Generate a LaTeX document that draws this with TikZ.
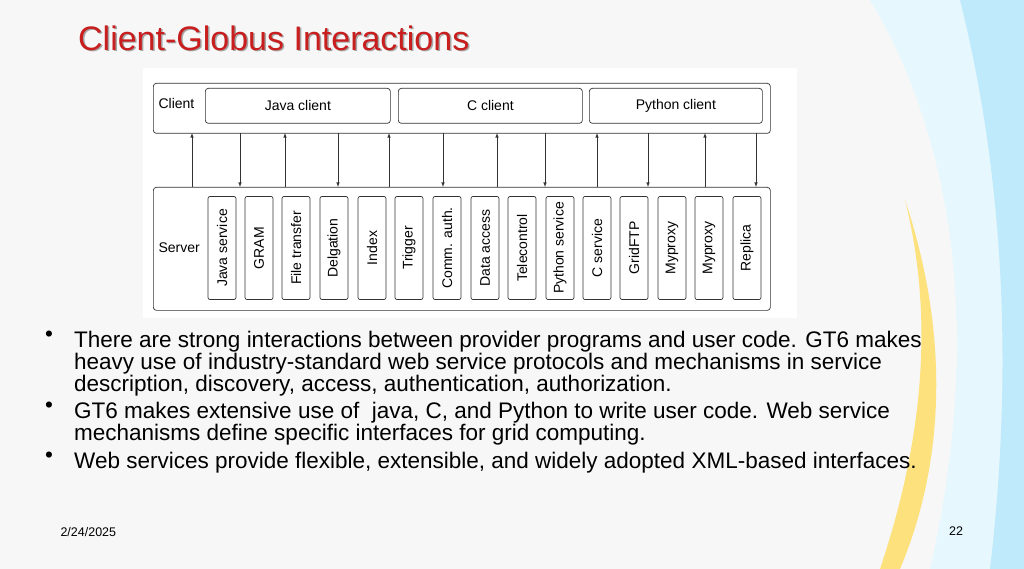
\documentclass[tikz,border=0pt]{standalone}
\usepackage{fontspec}
\setmainfont{Liberation Sans}
\begin{document}
\begin{tikzpicture}[x=1pt,y=-1pt,
 box/.style={draw=black!80,line width=0.7pt,rounded corners=3pt},
 svc/.style={draw=black!80,line width=0.7pt,rounded corners=2pt,minimum width=28pt,minimum height=103pt,inner sep=0pt},
 svct/.style={font=\fontsize{14}{14}\selectfont,rotate=90},
 lab/.style={font=\fontsize{14}{14}\selectfont},
 arr/.style={-latex,line width=0.6pt,black!80},
 body/.style={font=\fontsize{22.5}{22}\selectfont,anchor=north west,align=left,inner sep=0pt}]
\useasboundingbox (0,0) rectangle (1024,569);
\fill[gray!6] (0,0) rectangle (1024,569);
\fill[cyan!10] (870,0) .. controls (960,150) and (980,350) .. (930,569) -- (1024,569) -- (1024,0) -- cycle;
\fill[cyan!25] (960,0) .. controls (1010,200) and (1010,400) .. (990,569) -- (1024,569) -- (1024,0) -- cycle;
\fill[yellow!60!orange!50] (880,569) .. controls (930,420) and (930,300) .. (905,200) .. controls (945,320) and (950,450) .. (900,569) -- cycle;
\node[anchor=west,font=\fontsize{34}{36}\selectfont,text=black!35,inner sep=0pt] (ts) at (79.5,39.5) {Client-Globus Interactions};
\node[anchor=west,font=\fontsize{34}{36}\selectfont,text={rgb,255:red,200;green,30;blue,30},inner sep=0pt] (title) at (78,38) {Client-Globus Interactions};
\fill[white] (143,68) rectangle (797,318);
\node[box,minimum width=617pt,minimum height=50pt,anchor=north west,inner sep=0pt] (client) at (153,83) {};
\node[box,minimum width=617pt,minimum height=123pt,anchor=north west,inner sep=0pt] (server) at (153,187) {};
\node[lab,anchor=west] (cl) at (155,103) {Client};
\node[lab,anchor=west] (sl) at (155,248) {Server};
\node[box,lab,minimum width=185pt,minimum height=35pt,anchor=north west,inner sep=0pt] (java) at (205,88) {Java client};
\node[box,lab,minimum width=184pt,minimum height=35pt,anchor=north west,inner sep=0pt] (cc) at (398,88) {C client};
\node[box,lab,minimum width=173pt,minimum height=35pt,anchor=north west,inner sep=0pt] (py) at (589,88) {Python client};
\foreach \x/\t [count=\i] in {222/Java service,259/GRAM,296/File transfer,334/Delgation,372/Index,409/Trigger,447/Comm. auth.,485/Data access,522/Telecontrol,560/Python service,597/C service,634/GridFTP,672/Myproxy,709/Myproxy,747/Replica}{
 \node[svc] (s\i) at (\x,248) {};
 \node[svct] (t\i) at (\x,248) {\t};
}
\foreach \x/\d [count=\i] in {192/u,240/d,285/u,338/d,389/u,443/d,497/u,545/d,597/u,648/d,705/u,756/d}{
 \coordinate (a\i) at (\x,133);
 \coordinate (b\i) at (\x,187);
 \if\d u \draw[arr] (b\i) -- (a\i); \else \draw[arr] (a\i) -- (b\i); \fi
}
\node[body] (bl) at (45,331) {\textbullet};
\node[body] (b1) at (74,331) {There are strong interactions between provider programs and user code. GT6 makes\\heavy use of industry-standard web service protocols and mechanisms in service\\description, discovery, access, authentication, authorization.};
\node[body] (bl2) at (45,402) {\textbullet};
\node[body] (b2) at (74,402) {GT6 makes extensive use of\ \ java, C, and Python to write user code. Web service\\mechanisms define specific interfaces for grid computing.};
\node[body] (bl3) at (45,452) {\textbullet};
\node[body] (b3) at (74,452) {Web services provide flexible, extensible, and widely adopted XML-based interfaces.};
\node[font=\fontsize{12.5}{12}\selectfont,anchor=west] (date) at (57,532) {2/24/2025};
\node[font=\fontsize{12.5}{12}\selectfont] (pg) at (956,531) {22};
\end{tikzpicture}
\end{document}
